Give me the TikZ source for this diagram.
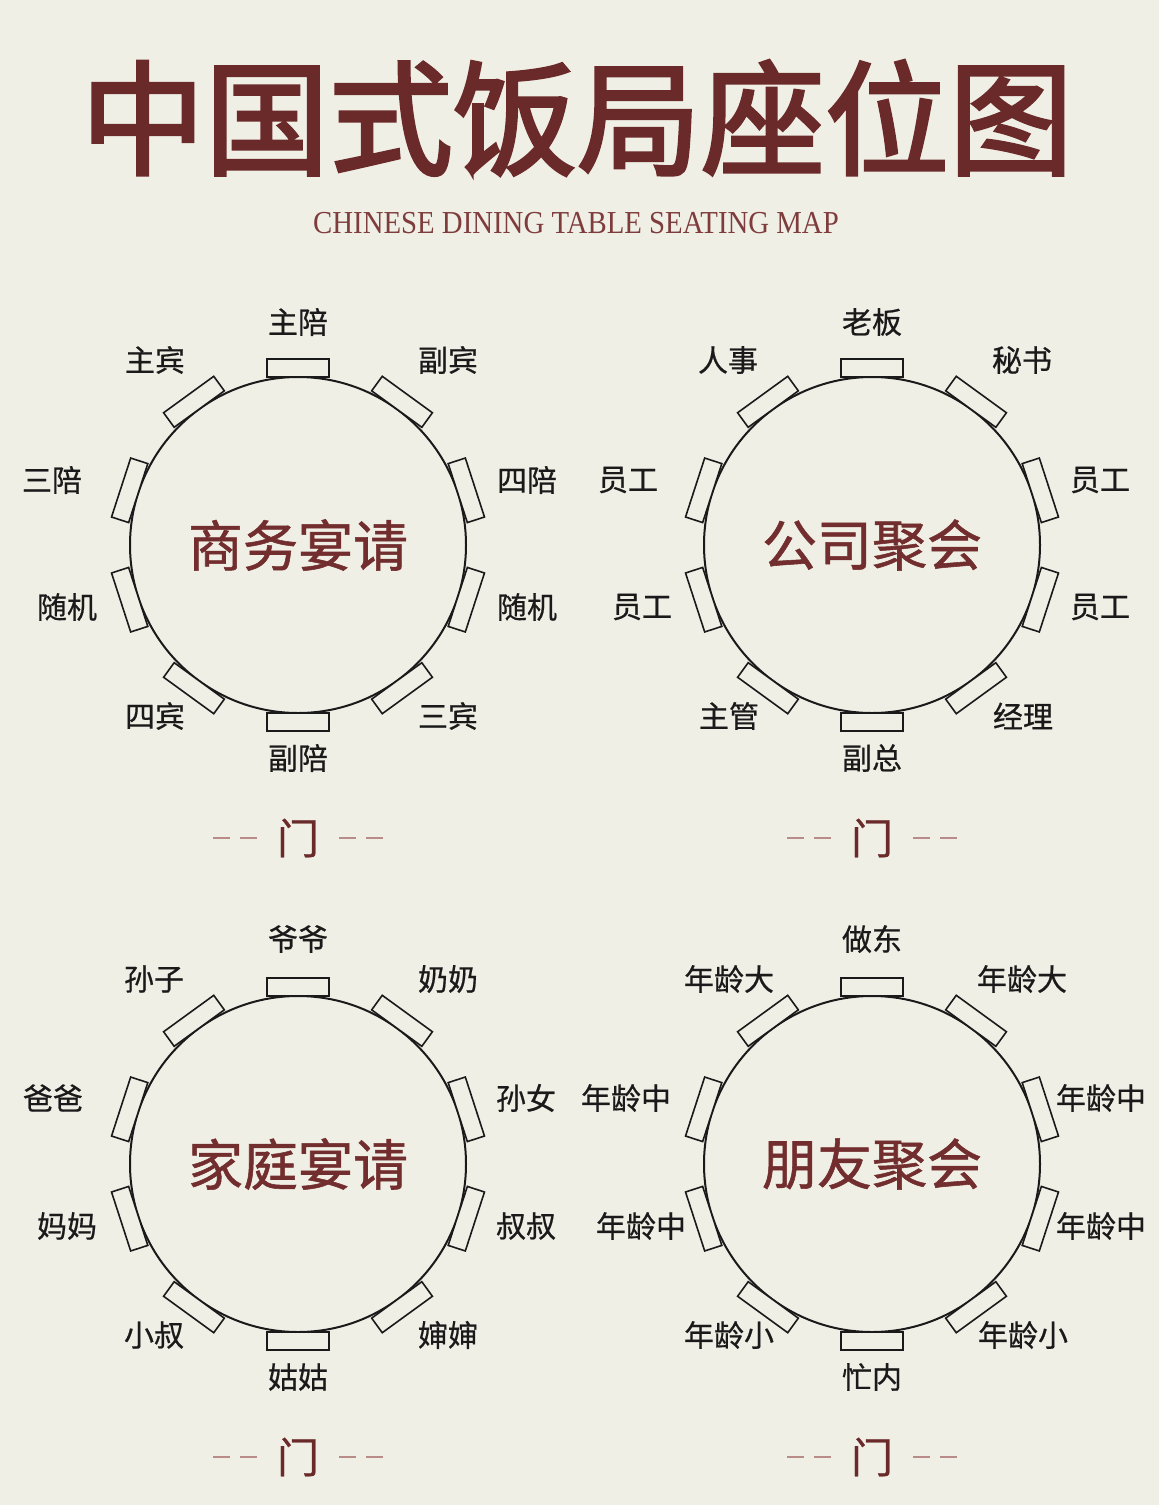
\documentclass[tikz,border=0pt]{standalone}
\usepackage{fontspec}
\setmainfont{Liberation Serif}
\newfontfamily\cjk[FakeBold=0.6]{Noto Sans CJK SC}
\newfontfamily\cjkmid[FakeBold=1.0]{Noto Sans CJK SC}
\newfontfamily\cjktitle[FakeBold=2.5]{Noto Sans CJK SC}
\definecolor{bg}{HTML}{F0EFE6}
\definecolor{titlered}{HTML}{6B2A2A}
\definecolor{centerred}{HTML}{722E2E}
\definecolor{subred}{HTML}{7E3C3C}
\definecolor{dashpink}{HTML}{B98B89}
\definecolor{ink}{HTML}{1A1A1A}
\tikzset{
  lbl/.style={font=\cjk\fontsize{30}{30}\selectfont, text=ink, inner sep=0pt},
  seatbox/.style={draw=ink, line width=1.6pt, fill=bg, minimum width=62pt, minimum height=18pt, inner sep=0pt, outer sep=0pt},
  tablecircle/.style={circle, draw=ink, line width=2pt, minimum size=336pt, inner sep=0pt, fill=bg},
  tabletitle/.style={font=\cjkmid\fontsize{55}{55}\selectfont, text=centerred, inner sep=0pt},
  doorlbl/.style={font=\cjk\fontsize{42}{42}\selectfont, text=titlered, inner sep=0pt},
  doordash/.style={draw=dashpink, line width=2.5pt, dash pattern=on 17pt off 10pt},
}
\newcommand\seattable[4]{%
  \node[tablecircle] (#1) at (#2,-#3) {};
  \node[tabletitle] (#1-t) at (#1.center) {#4};
  \foreach \k in {0,...,9} {
    \pgfmathsetmacro\ang{90-36*\k}
    \node[seatbox, rotate=\ang-90] (#1-s\k) at ([shift={(\ang:177)}]#1.center) {};
  }
  \node[doorlbl] (#1-door) at ([yshift=-293pt]#1.center) {门};
  \draw[doordash] ([xshift=-85pt]#1-door.center) -- ([xshift=-41pt]#1-door.center);
  \draw[doordash] ([xshift=41pt]#1-door.center) -- ([xshift=85pt]#1-door.center);
}
\begin{document}
\begin{tikzpicture}[x=1pt,y=1pt]
\fill[bg] (0,0) rectangle (1159,-1505);
\useasboundingbox (0,0) rectangle (1159,-1505);

\node[font=\cjktitle\fontsize{124}{124}\selectfont, text=titlered, inner sep=0pt] (title) at (577,-118) {中国式饭局座位图};
\node[font=\fontsize{32}{32}\selectfont, text=subred, inner sep=0pt] (subtitle) at (576,-223) {\scalebox{0.9}[1]{CHINESE DINING TABLE SEATING MAP}};

% Table A
\seattable{ta}{298}{545}{商务宴请}
\node[lbl] (ta-l0) at (298,-322) {主陪};
\node[lbl] (ta-l1) at (155,-360) {主宾};
\node[lbl] (ta-l2) at (448,-360) {副宾};
\node[lbl] (ta-l3) at (52,-480) {三陪};
\node[lbl] (ta-l4) at (527,-480) {四陪};
\node[lbl] (ta-l5) at (67,-607) {随机};
\node[lbl] (ta-l6) at (527,-607) {随机};
\node[lbl] (ta-l7) at (155,-716) {四宾};
\node[lbl] (ta-l8) at (448,-716) {三宾};
\node[lbl] (ta-l9) at (298,-758) {副陪};

% Table B
\seattable{tb}{872}{545}{公司聚会}
\node[lbl] (tb-l0) at (872,-322) {老板};
\node[lbl] (tb-l1) at (728,-360) {人事};
\node[lbl] (tb-l2) at (1022,-360) {秘书};
\node[lbl] (tb-l3) at (628,-480) {员工};
\node[lbl] (tb-l4) at (1100,-480) {员工};
\node[lbl] (tb-l5) at (642,-607) {员工};
\node[lbl] (tb-l6) at (1100,-607) {员工};
\node[lbl] (tb-l7) at (729,-716) {主管};
\node[lbl] (tb-l8) at (1023,-716) {经理};
\node[lbl] (tb-l9) at (872,-758) {副总};

% Table C
\seattable{tc}{298}{1164}{家庭宴请}
\node[lbl] (tc-l0) at (298,-939) {爷爷};
\node[lbl] (tc-l1) at (154,-979) {孙子};
\node[lbl] (tc-l2) at (448,-979) {奶奶};
\node[lbl] (tc-l3) at (53,-1098) {爸爸};
\node[lbl] (tc-l4) at (526,-1098) {孙女};
\node[lbl] (tc-l5) at (67,-1226) {妈妈};
\node[lbl] (tc-l6) at (526,-1226) {叔叔};
\node[lbl] (tc-l7) at (154,-1335) {小叔};
\node[lbl] (tc-l8) at (448,-1335) {婶婶};
\node[lbl] (tc-l9) at (298,-1377) {姑姑};

% Table D
\seattable{td}{872}{1164}{朋友聚会}
\node[lbl] (td-l0) at (872,-939) {做东};
\node[lbl] (td-l1) at (729,-979) {年龄大};
\node[lbl] (td-l2) at (1022,-979) {年龄大};
\node[lbl] (td-l3) at (626,-1098) {年龄中};
\node[lbl] (td-l4) at (1101,-1098) {年龄中};
\node[lbl] (td-l5) at (641,-1226) {年龄中};
\node[lbl] (td-l6) at (1101,-1226) {年龄中};
\node[lbl] (td-l7) at (729,-1335) {年龄小};
\node[lbl] (td-l8) at (1023,-1335) {年龄小};
\node[lbl] (td-l9) at (872,-1377) {忙内};
\end{tikzpicture}
\end{document}
